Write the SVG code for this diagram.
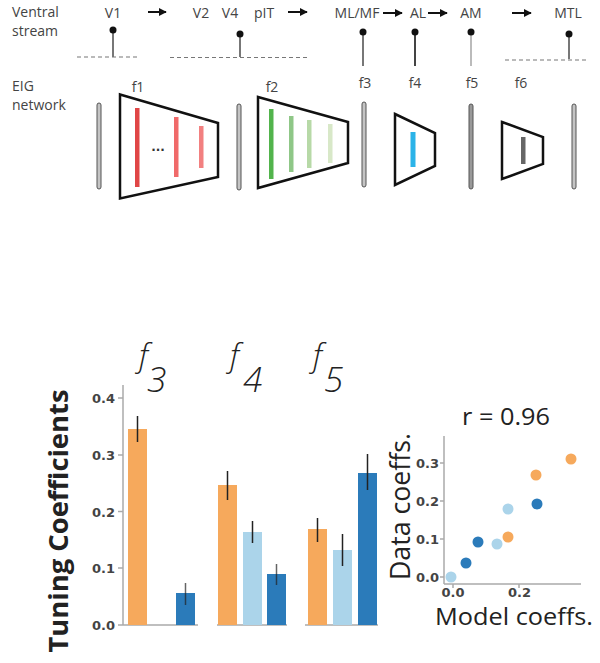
<svg xmlns="http://www.w3.org/2000/svg" width="600" height="663" viewBox="0 0 600 663">
<defs>
<marker id="ah" viewBox="0 0 10 10" refX="9" refY="5" markerWidth="4" markerHeight="4" orient="auto" markerUnits="strokeWidth"><path d="M0,0 L10,5 L0,10 Z" fill="#111"/></marker>
</defs>
<style>
.lbl{font-family:"Open Sans","Liberation Sans",sans-serif;font-size:14px;fill:#444}
.stem{stroke-width:2}
.dash{stroke:#777;stroke-width:1.2;stroke-dasharray:4,3;fill:none}
.dot{fill:#111}
.lyr{fill:#c4c4c4;stroke:#555;stroke-width:1}
.trap{fill:#fff;stroke:#111;stroke-width:2.5;stroke-linejoin:miter}
.arr{stroke:#111;stroke-width:2;fill:none}
.tick{font-family:"DejaVu Sans",sans-serif;font-size:13px;font-weight:bold;fill:#444}
.ax{stroke:#aaa;stroke-width:1.5;fill:none}
.err{stroke:#222;stroke-width:1.5}
.org{fill:#f6a95c}
.lb{fill:#abd4ea}
.db{fill:#2b7bba}
.big{font-family:"Open Sans","Liberation Sans",sans-serif;fill:#222}
.fl{font-family:"Open Sans","Liberation Sans",sans-serif;font-style:italic;font-weight:300;fill:#222}
</style>

<g id="labels-top">
<text class="lbl" x="12" y="16.5">Ventral</text>
<text class="lbl" x="12" y="35.5">stream</text>
<text class="lbl" x="12" y="91">EIG</text>
<text class="lbl" x="12" y="110">network</text>
</g>

<g id="stages" class="lbl" text-anchor="middle">
<text x="113" y="18">V1</text>
<text x="201" y="18">V2</text>
<text x="230" y="18">V4</text>
<text x="264" y="18">pIT</text>
<text x="357" y="18">ML/MF</text>
<text x="418" y="18">AL</text>
<text x="471" y="18">AM</text>
<text x="568" y="18">MTL</text>
</g>

<g id="connectors">
<line class="arr" x1="148" y1="12" x2="166" y2="12" marker-end="url(#ah)"/>
<line class="arr" x1="288" y1="12" x2="307" y2="12" marker-end="url(#ah)"/>
<line class="arr" x1="383" y1="13" x2="402" y2="13" marker-end="url(#ah)"/>
<line class="arr" x1="428" y1="13" x2="447" y2="13" marker-end="url(#ah)"/>
<line class="arr" x1="512" y1="13" x2="531" y2="13" marker-end="url(#ah)"/>
</g>

<g id="lollipops">
<line class="dash" x1="77" y1="57" x2="140" y2="57"/>
<line class="stem" x1="113" y1="30" x2="113" y2="57" stroke="#777"/>
<circle class="dot" cx="113" cy="30" r="3.5"/>
<line class="dash" x1="170" y1="57.5" x2="308" y2="57.5"/>
<line class="stem" x1="240" y1="34" x2="240" y2="57" stroke="#777"/>
<circle class="dot" cx="240" cy="34" r="3.5"/>
<line class="stem" x1="363" y1="32" x2="363" y2="66" stroke="#777"/>
<circle class="dot" cx="363" cy="32" r="3.5"/>
<line class="stem" x1="415" y1="32" x2="415" y2="66" stroke="#444"/>
<circle class="dot" cx="415" cy="32" r="3.5"/>
<line class="stem" x1="471" y1="32" x2="471" y2="66" stroke="#bbb"/>
<circle class="dot" cx="471" cy="32" r="3.5"/>
<line class="dash" x1="505" y1="60" x2="588" y2="60"/>
<line class="stem" x1="569" y1="34" x2="569" y2="59" stroke="#777"/>
<circle class="dot" cx="569" cy="34" r="3.5"/>
</g>

<g id="flabels" class="lbl" text-anchor="middle">
<text x="138" y="92">f1</text>
<text x="272" y="92">f2</text>
<text x="365" y="88">f3</text>
<text x="415" y="88">f4</text>
<text x="472" y="88">f5</text>
<text x="521" y="88">f6</text>
</g>

<g id="layers">
<rect class="lyr" x="97" y="103" width="4" height="86" rx="2"/>
<rect class="lyr" x="237" y="104" width="4" height="86" rx="2"/>
<rect class="lyr" x="362" y="102" width="4" height="85" rx="2"/>
<rect class="lyr" x="469" y="104" width="4" height="85" rx="2" style="fill:#999"/>
<rect class="lyr" x="572" y="104" width="4" height="85" rx="2"/>
</g>

<g id="f1">
<polygon class="trap" points="120,94.5 218,123 218,177 120,198.5"/>
<rect x="135" y="108" width="4.5" height="79" fill="#e04646"/>
<rect x="174" y="117" width="4.5" height="60" fill="#f06a6a"/>
<rect x="199" y="126" width="4.5" height="42" fill="#f28080"/>
<text x="158" y="151" text-anchor="middle" font-family="DejaVu Sans,sans-serif" font-size="12" font-weight="bold" fill="#333">...</text>
</g>

<g id="f2">
<polygon class="trap" points="258,97 348,122 348,163 258,188"/>
<rect x="269" y="109" width="4.5" height="70" fill="#52b44c"/>
<rect x="289" y="116" width="4.5" height="56" fill="#8fc787"/>
<rect x="307" y="120" width="4.5" height="48" fill="#b7d9a7"/>
<rect x="328" y="124" width="4.5" height="39" fill="#d8e8c8"/>
</g>

<g id="f4">
<polygon class="trap" points="395,114 435,133 435,166 395,185"/>
<rect x="410.5" y="132" width="5" height="35" fill="#2bb3e8"/>
</g>

<g id="f6">
<polygon class="trap" points="502,122 543,137 543,164 502,179"/>
<rect x="521" y="137" width="4.5" height="27" fill="#666"/>
</g>

<g id="barchart">
<text class="big" font-weight="bold" font-size="27" text-anchor="middle" textLength="263" lengthAdjust="spacingAndGlyphs" transform="translate(68,521) rotate(-90)">Tuning Coefficients</text>
<line class="ax" x1="123" y1="385" x2="123" y2="625"/>
<g class="ax">
<line x1="118" y1="625" x2="123" y2="625"/><line x1="118" y1="568" x2="123" y2="568"/><line x1="118" y1="511.5" x2="123" y2="511.5"/><line x1="118" y1="455" x2="123" y2="455"/><line x1="118" y1="398" x2="123" y2="398"/>
</g>
<g class="tick" text-anchor="end">
<text x="115" y="630">0.0</text>
<text x="115" y="573">0.1</text>
<text x="115" y="516.5">0.2</text>
<text x="115" y="460">0.3</text>
<text x="115" y="403">0.4</text>
</g>
<line class="ax" x1="123" y1="625" x2="198" y2="625"/>
<line class="ax" x1="217" y1="625" x2="287" y2="625"/>
<line class="ax" x1="305" y1="625" x2="378" y2="625"/>

<rect class="org" x="128" y="429" width="19" height="196"/>
<rect class="db" x="176" y="593" width="19" height="32"/>
<rect class="org" x="218" y="485" width="19" height="140"/>
<rect class="lb" x="243" y="532" width="19" height="93"/>
<rect class="db" x="267" y="574" width="19" height="51"/>
<rect class="org" x="308" y="529" width="19" height="96"/>
<rect class="lb" x="333" y="550" width="19" height="75"/>
<rect class="db" x="358" y="473" width="19" height="152"/>

<line class="err" x1="137.5" y1="416" x2="137.5" y2="442"/>
<line class="err" x1="185.5" y1="583" x2="185.5" y2="605" stroke-opacity="0.7"/>
<line class="err" x1="227.5" y1="471" x2="227.5" y2="500"/>
<line class="err" x1="252.5" y1="521" x2="252.5" y2="543"/>
<line class="err" x1="276.5" y1="564" x2="276.5" y2="585" stroke-opacity="0.7"/>
<line class="err" x1="317.5" y1="518" x2="317.5" y2="542"/>
<line class="err" x1="342.5" y1="534" x2="342.5" y2="566" stroke-width="2"/>
<line class="err" x1="367.5" y1="454" x2="367.5" y2="490"/>

<text class="fl" font-size="32" x="139" y="367">f</text>
<text class="fl" font-size="35" x="147" y="392">3</text>
<text class="fl" font-size="32" x="230" y="367">f</text>
<text class="fl" font-size="35" x="243" y="392">4</text>
<text class="fl" font-size="32" x="313" y="367">f</text>
<text class="fl" font-size="35" x="324" y="392">5</text>
</g>

<g id="scatter">
<text class="big" font-size="24" text-anchor="middle" textLength="88" lengthAdjust="spacingAndGlyphs" x="506" y="425">r = 0.96</text>
<line class="ax" x1="444" y1="436" x2="444" y2="584"/>
<line class="ax" x1="444" y1="584" x2="581" y2="584"/>
<g class="ax">
<line x1="440" y1="577" x2="444" y2="577"/><line x1="440" y1="539" x2="444" y2="539"/><line x1="440" y1="501" x2="444" y2="501"/><line x1="440" y1="463" x2="444" y2="463"/>
<line x1="453" y1="584" x2="453" y2="588"/><line x1="519" y1="584" x2="519" y2="588"/>
</g>
<g class="tick" text-anchor="end">
<text x="439" y="582">0.0</text>
<text x="439" y="544">0.1</text>
<text x="439" y="506">0.2</text>
<text x="439" y="468">0.3</text>
</g>
<g class="tick" text-anchor="middle">
<text x="453" y="597">0.0</text>
<text x="519.5" y="597">0.2</text>
</g>
<circle class="lb" cx="451" cy="577" r="5.5"/>
<circle class="db" cx="466" cy="563" r="5.5"/>
<circle class="db" cx="478" cy="542" r="5.5"/>
<circle class="lb" cx="497" cy="544" r="5.5"/>
<circle class="org" cx="508" cy="537" r="5.5"/>
<circle class="lb" cx="508" cy="509" r="5.5"/>
<circle class="org" cx="536" cy="475" r="5.5"/>
<circle class="db" cx="537" cy="504" r="5.5"/>
<circle class="org" cx="571" cy="459" r="5.5"/>
<text class="big" font-size="27" text-anchor="middle" textLength="147" lengthAdjust="spacingAndGlyphs" transform="translate(410,506.5) rotate(-90)">Data coeffs.</text>
<text class="big" font-size="24" x="435" y="625" textLength="158" lengthAdjust="spacingAndGlyphs">Model coeffs.</text>
</g>
</svg>
